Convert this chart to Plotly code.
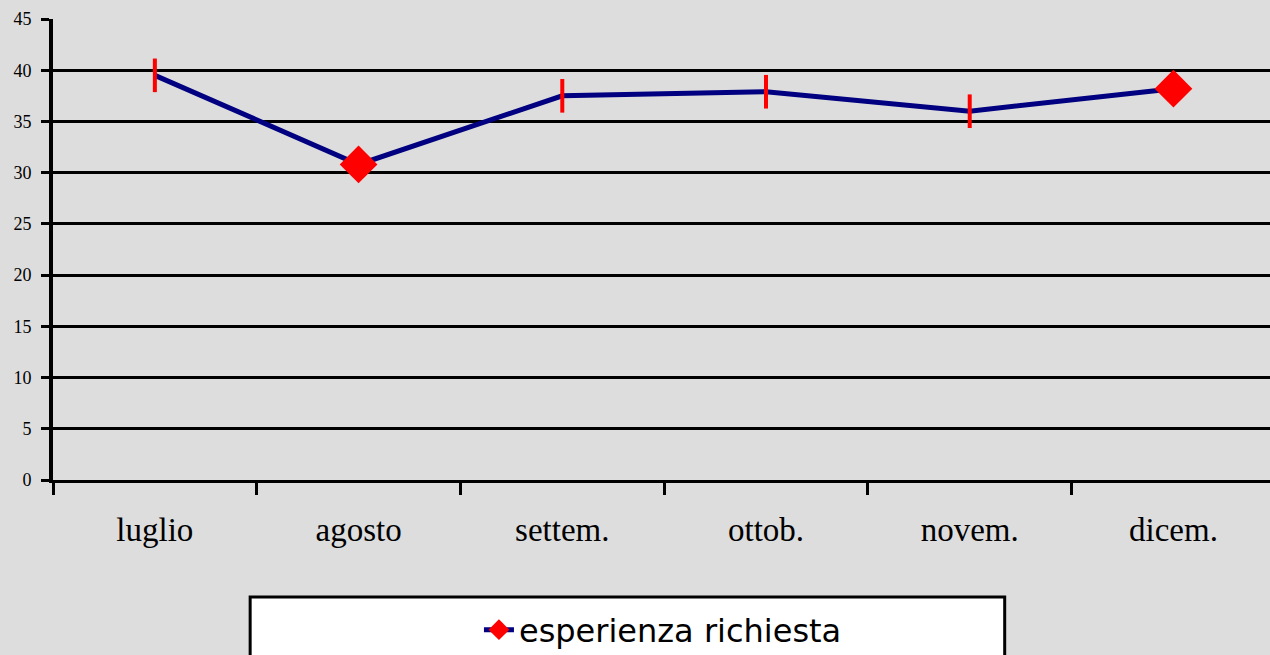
import plotly.graph_objects as go

months = ["luglio", "agosto", "settem.", "ottob.", "novem.", "dicem."]
values = [39.5, 30.8, 37.5, 37.9, 36.0, 38.2]
symbols = ["line-ns", "diamond", "line-ns", "line-ns", "line-ns", "diamond"]
marker_sizes = [24, 29, 24, 24, 24, 29]
marker_line_widths = [4, 0, 4, 4, 4, 0]
series_name = "esperienza richiesta"
y_ticks = [0, 5, 10, 15, 20, 25, 30, 35, 40, 45]

BG = "#DDDDDD"
NAVY = "#000080"
RED = "#FF0000"

fig = go.Figure()
fig.add_trace(go.Scatter(
    x=months, y=values, mode="lines+markers", showlegend=False,
    line=dict(color=NAVY, width=5),
    marker=dict(symbol=symbols, size=marker_sizes, color=RED, opacity=1,
                line=dict(color=RED, width=marker_line_widths)),
    hoverinfo="x+y",
))
# legend entry
fig.add_trace(go.Scatter(
    x=[None], y=[None], mode="lines+markers", name=series_name,
    line=dict(color=NAVY, width=5),
    marker=dict(symbol="diamond", size=16, color=RED, opacity=1),
))

fig.update_layout(
    width=1270, height=655,
    margin=dict(l=53, r=0, t=19, b=175, autoexpand=False),
    paper_bgcolor=BG, plot_bgcolor=BG,
    showlegend=True,
    legend=dict(
        x=0.35, y=-0.325, xanchor="left", yanchor="middle",
        bgcolor="rgba(0,0,0,0)", borderwidth=0,
        font=dict(family="DejaVu Sans, sans-serif", size=32, color="black"),
    ),
    shapes=[dict(type="rect", xref="paper", yref="paper",
                 x0=0.162, x1=0.782, y0=-0.412, y1=-0.254,
                 fillcolor="white", line=dict(color="black", width=3),
                 layer="below")],
)
fig.update_xaxes(
    type="category", range=[-0.5, 5.474],
    showline=True, linecolor="black", linewidth=3,
    ticks="outside", tickson="boundaries", ticklen=12, tickwidth=3, tickcolor="black",
    showgrid=False, ticklabelstandoff=18,
    tickfont=dict(family="Liberation Serif, Times New Roman, serif", size=33, color="black"),
)
fig.update_yaxes(
    range=[0, 45], tickvals=y_ticks, ticktext=[str(v) for v in y_ticks],
    showline=True, linecolor="black", linewidth=4,
    ticks="outside", ticklen=8, tickwidth=3, tickcolor="black",
    showgrid=True, gridcolor="black", gridwidth=3, zeroline=False,
    ticklabelstandoff=6,
    tickfont=dict(family="Liberation Serif, Times New Roman, serif", size=18, color="black"),
)

fig.write_html("out.html", config={"displayModeBar": False},
               post_script="document.body.style.margin='0';")
